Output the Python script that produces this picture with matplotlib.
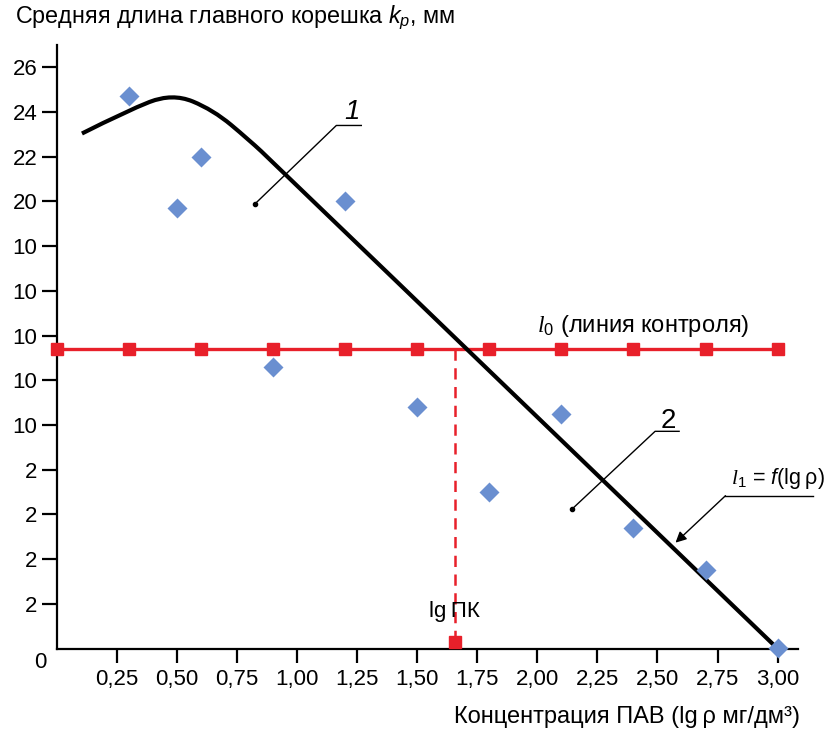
import matplotlib
matplotlib.use("Agg")
import matplotlib.pyplot as plt
from matplotlib.path import Path
from matplotlib.patches import PathPatch

plt.rcParams["font.family"] = ["Liberation Sans", "DejaVu Sans"]
plt.rcParams["mathtext.fontset"] = "custom"
plt.rcParams["mathtext.rm"] = "Liberation Sans"
plt.rcParams["mathtext.it"] = "Liberation Sans:italic"
plt.rcParams["mathtext.cal"] = "Liberation Serif:italic"

# --- данные ---
# экспериментальные точки (ромбы)
exp_x = [0.30, 0.50, 0.60, 0.90, 1.20, 1.50, 1.80, 2.10, 2.40, 2.70, 3.00]
exp_y = [24.7, 19.7, 22.0, 12.6, 20.0, 10.8, 7.0, 10.5, 5.4, 3.5, 0.05]

# линия контроля l0
ctrl_x = [0.00, 0.30, 0.60, 0.90, 1.20, 1.50, 1.80, 2.10, 2.40, 2.70, 3.00]
ctrl_level = 13.4

# кривая l1 = f(lg p) (опорные точки, сглаживается кривыми Безье)
curve_x = [0.104, 0.29, 0.48, 0.65, 0.80, 0.90, 3.00]
curve_y = [23.04, 24.05, 24.85, 24.10, 22.75, 21.75, 0.0]

# lg ПК
lgpk_x = 1.655
lgpk_marker_y = 0.3

# подписи оси Y (как на исходном рисунке)
ytick_vals = [2, 4, 6, 8, 10, 12, 14, 16, 18, 20, 22, 24, 26]
ytick_labels = ["2", "2", "2", "2", "10", "10", "10", "10", "10", "20", "22", "24", "26"]
xtick_vals = [0.25, 0.50, 0.75, 1.00, 1.25, 1.50, 1.75, 2.00, 2.25, 2.50, 2.75, 3.00]
xtick_labels = ["0,25", "0,50", "0,75", "1,00", "1,25", "1,50", "1,75",
                "2,00", "2,25", "2,50", "2,75", "3,00"]

BLUE = "#6a8fd0"
RED = "#e8202a"

fig = plt.figure(figsize=(8.33, 7.35), dpi=100)
ax = fig.add_axes([0.0684, 0.1175, 0.8896, 0.8213])

# линия контроля
ax.plot([ctrl_x[0], ctrl_x[-1]], [ctrl_level, ctrl_level], color=RED, lw=2.4, zorder=3,
        clip_on=False)
ax.plot(ctrl_x, [ctrl_level] * len(ctrl_x), "s", color=RED, ms=8.5, zorder=4, clip_on=False)

# вертикаль lg ПК
ax.plot([lgpk_x, lgpk_x], [ctrl_level, 0], color=RED, lw=1.8, ls=(0, (4.5, 3)), zorder=3)
ax.plot([lgpk_x], [lgpk_marker_y], "s", color=RED, ms=8.5, zorder=4, clip_on=False)
ax.text(lgpk_x, 1.65, "lg\u2009ПК", fontsize=16, ha="center", va="center")

# кривая: квадратичные Безье через середины отрезков между опорными точками
pts = list(zip(curve_x, curve_y))
verts = [pts[0]]
codes = [Path.MOVETO]
for i in range(1, len(pts) - 1):
    mid = ((pts[i][0] + pts[i + 1][0]) / 2, (pts[i][1] + pts[i + 1][1]) / 2)
    if i == len(pts) - 2:
        mid = pts[i + 1]
    verts += [pts[i], mid]
    codes += [Path.CURVE3, Path.CURVE3]
ax.add_patch(PathPatch(Path(verts, codes), fill=False, edgecolor="black", lw=3.0,
                       zorder=5, capstyle="butt", clip_on=False))

# экспериментальные точки
ax.plot(exp_x, exp_y, "D", color=BLUE, ms=10, zorder=6, clip_on=False, mec="none")

# выноски 1 и 2
ax.plot([0.825, 1.163, 1.267], [19.9, 23.4, 23.4], color="black", lw=1.0)
ax.plot([0.825], [19.9], "o", color="black", ms=3)
ax.text(1.229, 24.0, "1", fontsize=20, style="italic", ha="center", va="center")

ax.plot([2.146, 2.49, 2.59], [6.26, 9.72, 9.72], color="black", lw=1.0)
ax.plot([2.146], [6.26], "o", color="black", ms=3)
ax.text(2.546, 10.2, "2", fontsize=20, ha="center", va="center")

# подпись l1
ax.plot([2.783, 3.146], [6.84, 6.84], color="black", lw=1.0, clip_on=False)
ax.annotate("", xy=(2.575, 4.74), xytext=(2.783, 6.84),
            arrowprops=dict(arrowstyle="-|>", color="black", lw=1.0,
                            mutation_scale=16, shrinkA=0, shrinkB=0))
ax.text(2.805, 7.6, "$\\mathcal{l}_1$ = $f$(lg\u2009ρ)", fontsize=15.5, ha="left",
        va="center")

# подпись l0
ax.text(2.0, 14.45, "$\\mathcal{l}_0$ (линия контроля)", fontsize=17, ha="left", va="center")

# оси
ax.set_xlim(0, 3.085)
ax.set_ylim(0, 27.0)
ax.spines["top"].set_visible(False)
ax.spines["right"].set_visible(False)
for s in ("left", "bottom"):
    ax.spines[s].set_linewidth(1.6)
ax.set_xticks(xtick_vals)
ax.set_xticklabels(xtick_labels)
ax.set_yticks(ytick_vals)
ax.set_yticklabels(ytick_labels)
ax.tick_params(axis="both", direction="out", labelsize=16, width=1.6)
ax.tick_params(axis="y", length=11, pad=3)
ax.tick_params(axis="x", length=10, pad=5)
ax.text(-0.07, -0.6, "0", fontsize=16, ha="center", va="center", clip_on=False)

fig.text(15 / 833, 1 - 18 / 735, "Средняя длина главного корешка $k_p$, мм",
         fontsize=16.8, ha="left", va="center")
fig.text(800 / 833, 1 - 717 / 735, "Концентрация ПАВ (lg\u2009ρ мг/дм³)",
         fontsize=17, ha="right", va="center")

fig.savefig("out.png", dpi=100)
